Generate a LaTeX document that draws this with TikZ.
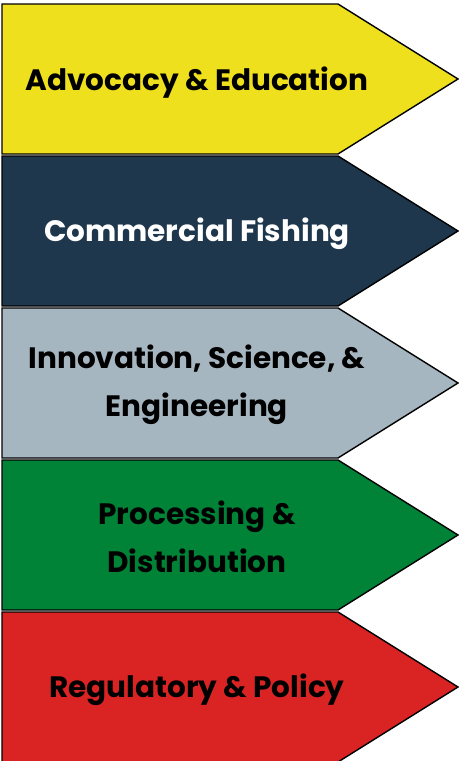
\documentclass[tikz,border=0pt]{standalone}
\usepackage{fontspec}
\setmainfont{Poppins}
\definecolor{cyellow}{RGB}{239,224,30}
\definecolor{cnavy}{RGB}{30,55,77}
\definecolor{cgrey}{RGB}{166,182,192}
\definecolor{cgreen}{RGB}{0,130,55}
\definecolor{cred}{RGB}{218,36,36}
\tikzset{
  arrowshape/.style={draw=black, line width=1.4pt, line join=miter},
  lbl/.style={font=\fontsize{29.5}{48}\selectfont\bfseries, align=center, inner sep=0pt},
}
\begin{document}
\begin{tikzpicture}[x=1pt,y=-1pt]
\useasboundingbox (0,0) rectangle (459,761);
\fill[white] (0,0) rectangle (459,761);
\clip (0,0) rectangle (459,761);
\foreach \i/\col in {0/cyellow,1/cnavy,2/cgrey,3/cgreen,4/cred}{
  \pgfmathsetmacro{\t}{4+152*\i}
  \draw[arrowshape, fill=\col] (2,\t) -- (338,\t) -- (458,\t+75) -- (338,\t+150) -- (2,\t+150) -- cycle;
}
\node[lbl, text=black] (a) at (197,83) {Advocacy \& Education};
\node[lbl, text=white] (b) at (197,234) {Commercial Fishing};
\node[lbl, text=black] (c) at (197,385) {Innovation, Science, \&\\Engineering};
\node[lbl, text=black] (d) at (197,537) {Processing \&\\Distribution};
\node[lbl, text=black] (e) at (197,690) {Regulatory \& Policy};
\end{tikzpicture}
\end{document}
